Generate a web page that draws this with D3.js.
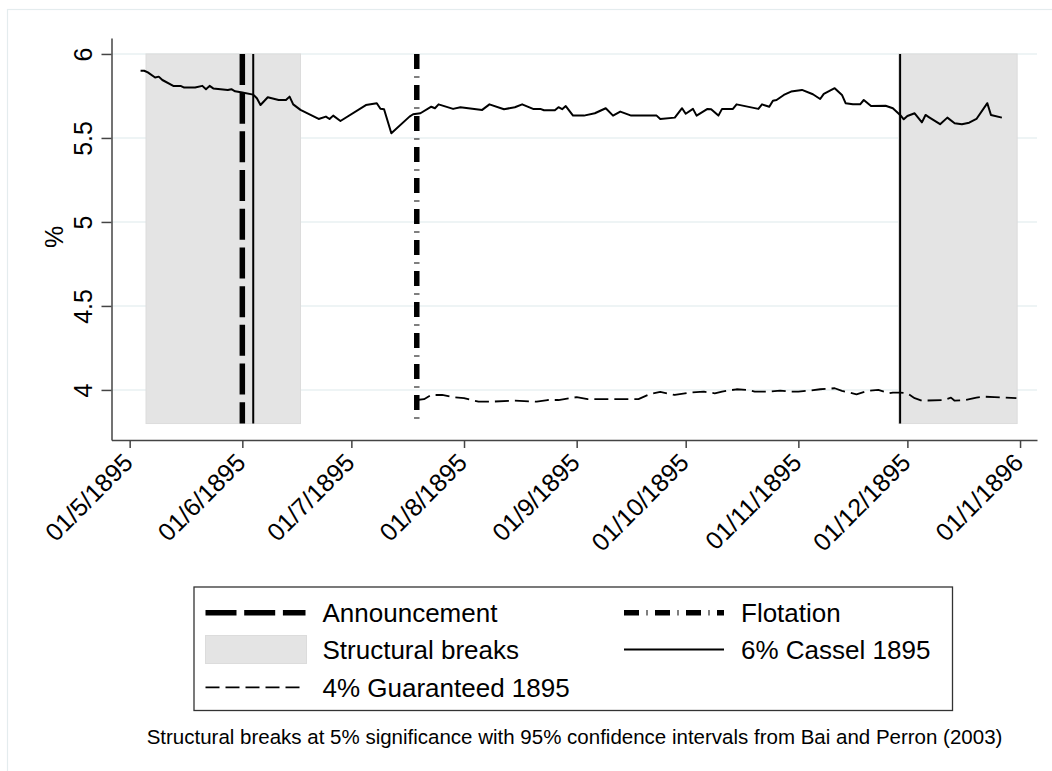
<!DOCTYPE html>
<html>
<head>
<meta charset="utf-8">
<script src="https://cdn.jsdelivr.net/npm/d3@7"></script>
<style>
  body { margin: 0; background: #fff; }
  svg { display: block; font-family: "Liberation Sans", Arial, sans-serif; }
</style>
</head>
<body>
<svg width="1052" height="771"></svg>
<script>
// 6% Cassel 1895 yields
var casselDates = ["1895-05-04","1895-05-05","1895-05-06","1895-05-08","1895-05-09","1895-05-10","1895-05-13","1895-05-15","1895-05-16","1895-05-19",
  "1895-05-21","1895-05-22","1895-05-23","1895-05-24","1895-05-26","1895-05-28","1895-05-29","1895-05-30","1895-06-01","1895-06-04",
  "1895-06-05","1895-06-06","1895-06-08","1895-06-11","1895-06-13","1895-06-14","1895-06-15","1895-06-17","1895-06-22","1895-06-24",
  "1895-06-25","1895-06-26","1895-06-28","1895-07-05","1895-07-08","1895-07-09","1895-07-10","1895-07-12","1895-07-17","1895-07-18",
  "1895-07-20","1895-07-23","1895-07-24","1895-07-25","1895-07-29","1895-07-31","1895-08-06","1895-08-08","1895-08-12","1895-08-15",
  "1895-08-17","1895-08-20","1895-08-22","1895-08-23","1895-08-26","1895-08-27","1895-08-28","1895-08-29","1895-08-31","1895-09-03",
  "1895-09-06","1895-09-09","1895-09-11","1895-09-13","1895-09-16","1895-09-23","1895-09-24","1895-09-28","1895-09-30","1895-10-01",
  "1895-10-03","1895-10-04","1895-10-07","1895-10-08","1895-10-10","1895-10-11","1895-10-14","1895-10-15","1895-10-21","1895-10-22",
  "1895-10-24","1895-10-25","1895-10-26","1895-10-28","1895-10-30","1895-11-02","1895-11-05","1895-11-07","1895-11-08","1895-11-11",
  "1895-11-13","1895-11-14","1895-11-16","1895-11-18","1895-11-19","1895-11-21","1895-11-25","1895-11-27","1895-11-29","1895-11-30",
  "1895-12-01","1895-12-03","1895-12-05","1895-12-06","1895-12-07","1895-12-10","1895-12-12","1895-12-14","1895-12-16","1895-12-18",
  "1895-12-20","1895-12-23","1895-12-24","1895-12-27"];
var casselValues = [5.90,5.90,5.89,5.86,5.865,5.845,5.81,5.81,5.80,5.80,
  5.81,5.79,5.81,5.795,5.79,5.785,5.79,5.778,5.77,5.758,
  5.736,5.696,5.742,5.726,5.726,5.746,5.70,5.667,5.613,5.627,
  5.613,5.633,5.601,5.696,5.707,5.674,5.671,5.528,5.627,5.641,
  5.647,5.686,5.677,5.70,5.673,5.683,5.667,5.70,5.671,5.683,
  5.70,5.673,5.673,5.665,5.665,5.683,5.671,5.69,5.633,5.633,
  5.647,5.677,5.633,5.657,5.633,5.633,5.613,5.621,5.677,5.644,
  5.673,5.633,5.673,5.671,5.633,5.673,5.673,5.70,5.673,5.70,
  5.686,5.722,5.726,5.756,5.776,5.786,5.76,5.732,5.762,5.796,
  5.756,5.707,5.70,5.70,5.726,5.69,5.692,5.677,5.637,5.611,
  5.631,5.647,5.593,5.637,5.623,5.582,5.621,5.588,5.582,5.591,
  5.613,5.707,5.637,5.621];

// 4% Guaranteed 1895 yields
var guarDates = ["1895-07-19","1895-07-21","1895-07-23","1895-07-26","1895-07-29","1895-08-01","1895-08-05","1895-08-08","1895-08-15","1895-08-21",
  "1895-08-24","1895-08-27","1895-09-01","1895-09-04","1895-09-12","1895-09-18","1895-09-21","1895-09-24","1895-09-28","1895-10-02",
  "1895-10-06","1895-10-09","1895-10-11","1895-10-15","1895-10-18","1895-10-20","1895-10-24","1895-10-27","1895-10-30","1895-11-01",
  "1895-11-04","1895-11-07","1895-11-11","1895-11-13","1895-11-17","1895-11-20","1895-11-23","1895-11-26","1895-11-27","1895-11-29",
  "1895-12-01","1895-12-03","1895-12-05","1895-12-11","1895-12-13","1895-12-14","1895-12-17","1895-12-20","1895-12-22","1895-12-25",
  "1895-12-28","1895-12-31"];
var guarValues = [3.94,3.945,3.97,3.97,3.957,3.951,3.93,3.93,3.936,3.93,
  3.94,3.94,3.957,3.945,3.945,3.945,3.974,3.988,3.97,3.984,
  3.99,3.98,3.99,4.004,4.0,3.99,3.99,3.996,3.99,3.99,
  3.996,4.004,4.01,3.994,3.974,3.994,4.0,3.98,3.984,3.984,
  3.98,3.951,3.936,3.94,3.954,3.936,3.94,3.954,3.96,3.957,
  3.954,3.951];

// events and structural breaks (with confidence bands)
var announceDate = "1895-06-01";
var flotationDate = "1895-07-19";
var breakDates = ["1895-06-04", "1895-11-29"];
var breakLow = ["1895-05-05T12:00", "1895-11-28T14:00"];
var breakHigh = ["1895-06-17", "1895-12-31T05:00"];
var bandRange = [3.8, 6];

// axes
var xTickDates = ["1895-05-01","1895-06-01","1895-07-01","1895-08-01","1895-09-01","1895-10-01","1895-11-01","1895-12-01","1896-01-01"];
var yTicks = [4, 4.5, 5, 5.5, 6];
var yTitle = "%";
var legendLabels = ["Announcement", "Flotation", "Structural breaks", "6% Cassel 1895", "4% Guaranteed 1895"];
var note = "Structural breaks at 5% significance with 95% confidence intervals from Bai and Perron (2003)";

function parse(s) { return new Date(s.length == 10 ? s + "T00:00Z" : s + "Z"); }

var svg = d3.select("svg");

// outer frame
svg.append("rect")
  .attr("x", 7.5).attr("y", 9.5).attr("width", 1100).attr("height", 800)
  .attr("fill", "none").attr("stroke", "#e4ecee").attr("stroke-width", 1.2);

var x = d3.scaleUtc()
  .domain([parse("1895-04-26"), parse("1896-01-05T16:00")])
  .range([111.5, 1037]);
var y = d3.scaleLinear()
  .domain([3.702, 6.095])
  .range([440, 38]);

// grid
svg.append("g").selectAll("line")
  .data(yTicks).enter().append("line")
  .attr("x1", 111.5).attr("x2", 1037)
  .attr("y1", d => y(d)).attr("y2", d => y(d))
  .attr("stroke", "#e8f0f2").attr("stroke-width", 1.6);

// confidence bands
svg.append("g").selectAll("rect")
  .data(breakLow).enter().append("rect")
  .attr("x", d => x(parse(d)))
  .attr("width", (d, i) => x(parse(breakHigh[i])) - x(parse(d)))
  .attr("y", y(bandRange[1]))
  .attr("height", y(bandRange[0]) - y(bandRange[1]))
  .attr("fill", "#e4e4e4").attr("stroke", "#dcdcdc").attr("stroke-width", 1);

// break dates
svg.append("g").selectAll("line")
  .data(breakDates).enter().append("line")
  .attr("x1", d => x(parse(d))).attr("x2", d => x(parse(d)))
  .attr("y1", y(bandRange[1])).attr("y2", y(bandRange[0]))
  .attr("stroke", "#000").attr("stroke-width", 2);

var styles = {
  announce: { width: 5.5, dash: "31,7.7" },
  flotation: { width: 5.5, dash: "15,7.5,1,7.5" },
  cassel: { width: 2, dash: null },
  guar: { width: 1.8, dash: "14,6" }
};

function vline(date, st) {
  svg.append("line")
    .attr("x1", x(parse(date))).attr("x2", x(parse(date)))
    .attr("y1", y(bandRange[1])).attr("y2", y(bandRange[0]))
    .attr("stroke", "#000").attr("stroke-width", st.width)
    .attr("stroke-dasharray", st.dash);
}
vline(announceDate, styles.announce);
vline(flotationDate, styles.flotation);

var line = d3.line()
  .x(d => x(d[0]))
  .y(d => y(d[1]));

svg.append("path")
  .datum(guarDates.map((d, i) => [parse(d), guarValues[i]]))
  .attr("d", line)
  .attr("fill", "none").attr("stroke", "#000")
  .attr("stroke-width", styles.guar.width).attr("stroke-dasharray", styles.guar.dash)
  .attr("stroke-linejoin", "round");

svg.append("path")
  .datum(casselDates.map((d, i) => [parse(d), casselValues[i]]))
  .attr("d", line)
  .attr("fill", "none").attr("stroke", "#000")
  .attr("stroke-width", styles.cassel.width)
  .attr("stroke-linejoin", "round");

// axes
var fmt = d3.utcFormat("%d/%-m/%Y");
var gx = svg.append("g")
  .attr("transform", "translate(0,440)")
  .call(d3.axisBottom(x).tickValues(xTickDates.map(parse)).tickFormat(fmt).tickSize(8).tickSizeOuter(0));
var gy = svg.append("g")
  .attr("transform", "translate(111.5,0)")
  .call(d3.axisLeft(y).tickValues(yTicks).tickFormat(d => d).tickSize(10).tickSizeOuter(0));

[gx, gy].forEach(function(g) {
  g.attr("font-family", null).attr("font-size", 25).attr("color", "#444");
  g.selectAll("path, line").attr("stroke-width", 1.5);
  g.selectAll("text").attr("fill", "#000");
});

gx.selectAll("text")
  .attr("y", 0).attr("dy", "0.35em")
  .attr("text-anchor", "end")
  .attr("transform", "translate(-2,18) rotate(-45)");

gy.selectAll("text")
  .attr("x", 0).attr("dy", 0)
  .attr("text-anchor", "middle")
  .attr("transform", "translate(-19.5,0) rotate(-90)");

svg.append("text")
  .attr("transform", "translate(63,237) rotate(-90)")
  .attr("text-anchor", "middle")
  .attr("font-size", 25)
  .text(yTitle);

// legend
var legend = svg.append("g");
legend.append("rect")
  .attr("x", 194).attr("y", 587).attr("width", 758.5).attr("height", 123.5)
  .attr("fill", "#fff").attr("stroke", "#333").attr("stroke-width", 1.3);

var legendKinds = ["announce", "flotation", "band", "cassel", "guar"];
var rowY = [612.7, 649.5, 687.3];
var colX = [205.5, 624];

legendLabels.forEach(function(label, i) {
  var kx = colX[i % 2], ky = rowY[Math.floor(i / 2)];
  var kind = legendKinds[i];
  if (kind == "band") {
    legend.append("rect")
      .attr("x", kx).attr("y", ky - 14).attr("width", 101).attr("height", 28)
      .attr("fill", "#e4e4e4").attr("stroke", "#dcdcdc");
  } else {
    legend.append("line")
      .attr("x1", kx).attr("x2", kx + 100).attr("y1", ky).attr("y2", ky)
      .attr("stroke", "#000").attr("stroke-width", styles[kind].width)
      .attr("stroke-dasharray", styles[kind].dash);
  }
  legend.append("text")
    .attr("x", kx + 117).attr("y", ky).attr("dy", "0.36em")
    .attr("font-size", 26)
    .text(label);
});

// note
svg.append("text")
  .attr("x", 574.5).attr("y", 744)
  .attr("text-anchor", "middle")
  .attr("font-size", 20.5)
  .text(note);
</script>
</body>
</html>
